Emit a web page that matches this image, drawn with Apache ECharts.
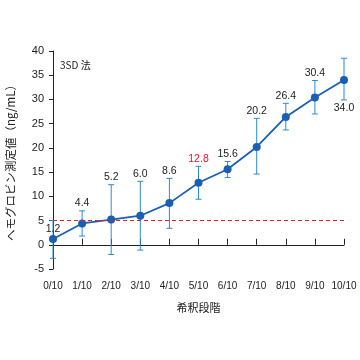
<!DOCTYPE html>
<html><head><meta charset="utf-8">
<script src="https://cdn.jsdelivr.net/npm/echarts@6/dist/echarts.min.js"></script>
<style>html,body{margin:0;padding:0;background:#fff}#c{width:360px;height:360px}</style>
</head><body><div id="c"></div>
<script>
var categories = ['0/10','1/10','2/10','3/10','4/10','5/10','6/10','7/10','8/10','9/10','10/10'];
var values = [1.2, 4.4, 5.2, 6.0, 8.6, 12.8, 15.6, 20.2, 26.4, 30.4, 34.0];
var errHigh = [5.0, 7.0, 12.4, 13.1, 13.7, 16.2, 17.2, 26.1, 29.2, 33.9, 38.5];
var errLow = [-2.8, 1.8, -2.0, -1.1, 3.4, 9.4, 13.9, 14.6, 23.7, 27.0, 29.9];
var labelTexts = ['1.2','4.4','5.2','6.0','8.6','12.8','15.6','20.2','26.4','30.4','34.0'];
var labelPlace = ['point','top','top','top','top','top','top','top','top','top','bottom'];
var labelColors = ['#222','#222','#222','#222','#222','#e8112d','#222','#222','#222','#222','#222'];
var yTicks = [-5, 0, 5, 10, 15, 20, 25, 30, 35, 40];
var cutoff = 5;

var font = 'Liberation Sans, Arial, sans-serif';
var chart = echarts.init(document.getElementById('c'));
var errData = categories.map(function(c, i){ return [i, errLow[i], errHigh[i], values[i]]; });
chart.setOption({
  animation: false,
  grid: {left: 53, right: 16, top: 51, bottom: 91, containLabel: false, outerBoundsMode: 'none'},
  xAxis: {
    type: 'category', data: categories, boundaryGap: false,
    axisLine: {lineStyle: {color: '#222', width: 1}},
    axisTick: {inside: true, length: 6, interval: 0, lineStyle: {color: '#222'}},
    axisLabel: {color: '#222', fontSize: 10, fontFamily: font, margin: 12, interval: 0},
    name: '希釈段階', nameLocation: 'middle', nameGap: 33,
    nameTextStyle: {color: '#222', fontSize: 11, fontFamily: 'Noto Sans CJK JP'}
  },
  yAxis: {
    type: 'value', min: yTicks[0], max: yTicks[yTicks.length-1], interval: 5,
    axisLine: {show: true, lineStyle: {color: '#222', width: 1}},
    axisTick: {show: true, length: 4, lineStyle: {color: '#222'}},
    axisLabel: {color: '#222', fontSize: 11, fontFamily: font, margin: 9},
    splitLine: {show: false},
    name: 'ヘモグロビン測定値（ng/mL）', nameLocation: 'middle', nameGap: 37,
    nameTextStyle: {color: '#222', fontSize: 11.5, fontFamily: 'Noto Sans CJK JP'}
  },
  graphic: [{type: 'text', left: 60, top: 60, style: {text: '3SD 法', fill: '#222', font: '10px Noto Sans CJK JP'}}],
  series: [
    {
      type: 'custom', data: errData, z: 2,
      renderItem: function(params, api){
        var x = api.value(0);
        var lo = api.coord([x, api.value(1)]);
        var hi = api.coord([x, api.value(2)]);
        var pt = api.coord([x, api.value(3)]);
        var i = params.dataIndex;
        var col = '#2a8ad4';
        var cw = 3;
        var ly, va = 'bottom', tx = hi[0];
        if (labelPlace[i] === 'top') { ly = hi[1] - 2; }
        else if (labelPlace[i] === 'point') { ly = pt[1] - 4; }
        else { ly = lo[1] + 3; va = 'top'; }
        return {type: 'group', children: [
          {type: 'line', shape: {x1: hi[0], y1: hi[1], x2: lo[0], y2: lo[1]}, style: {stroke: col, lineWidth: 1}},
          {type: 'line', shape: {x1: hi[0]-cw, y1: hi[1], x2: hi[0]+cw, y2: hi[1]}, style: {stroke: col, lineWidth: 1}},
          {type: 'line', shape: {x1: lo[0]-cw, y1: lo[1], x2: lo[0]+cw, y2: lo[1]}, style: {stroke: col, lineWidth: 1}},
          {type: 'text', z2: 10, style: {text: labelTexts[i], x: tx, y: ly, align: 'center', verticalAlign: va, fill: labelColors[i], font: '10.5px Liberation Sans, Arial, sans-serif'}}
        ]};
      }
    },
    {
      type: 'line', data: values, z: 3,
      symbol: 'circle', symbolSize: 8,
      lineStyle: {color: '#1a5fb4', width: 1.8},
      itemStyle: {color: '#1a5fb4'},
      markLine: {
        silent: true, symbol: 'none', label: {show: false},
        lineStyle: {color: '#d9232d', type: [4, 3], width: 1},
        data: [{yAxis: cutoff}]
      }
    }
  ]
});
</script></body></html>
